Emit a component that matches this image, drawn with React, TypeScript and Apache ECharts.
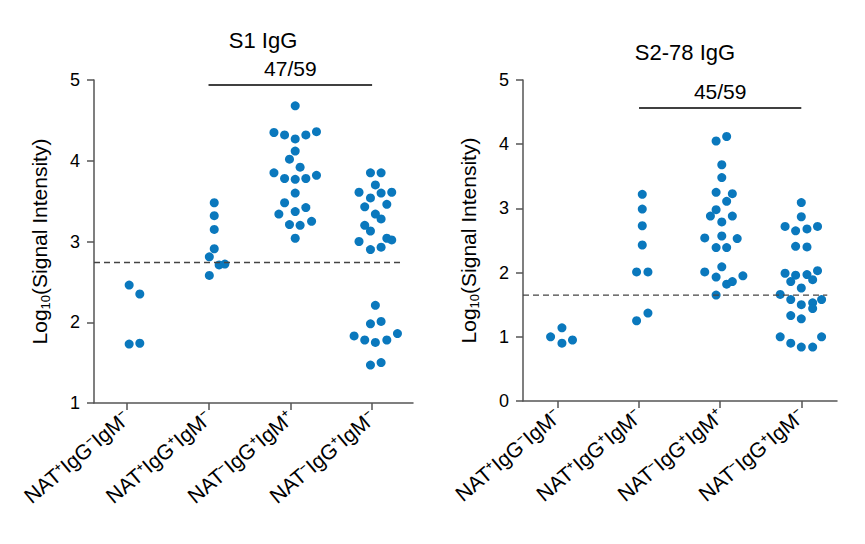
import React, { useEffect, useRef } from "react";
import * as echarts from "echarts";

const categories = ["NAT⁺IgG⁻IgM⁻", "NAT⁺IgG⁺IgM⁻", "NAT⁻IgG⁺IgM⁺", "NAT⁻IgG⁺IgM⁻"];

// S1 IgG: [category + horizontal swarm offset, log10 value]
const s1Points: [number, number][] = [
  [0.03, 2.46], [0.16, 2.35], [0.03, 1.73], [0.16, 1.74],
  [1.07, 3.48], [1.07, 3.32], [1.07, 3.15], [1.07, 2.91], [1.01, 2.81], [1.13, 2.71], [1.2, 2.72], [1.01, 2.58],
  [2.06, 4.68], [1.8, 4.35], [1.93, 4.32], [2.06, 4.27], [2.19, 4.32], [2.32, 4.36], [2.06, 4.12], [1.99, 4.02],
  [2.12, 3.92], [1.8, 3.85], [1.93, 3.78], [2.06, 3.77], [2.19, 3.78], [2.32, 3.82], [2.06, 3.6], [1.93, 3.48],
  [2.19, 3.42], [1.86, 3.34], [2.06, 3.37], [1.99, 3.21], [2.12, 3.2], [2.26, 3.25], [2.06, 3.04],
  [2.98, 3.85], [3.11, 3.85], [3.04, 3.7], [2.84, 3.61], [2.98, 3.54], [3.11, 3.6], [3.24, 3.61], [2.91, 3.43],
  [3.18, 3.46], [3.04, 3.34], [3.11, 3.28], [2.91, 3.2], [2.98, 3.13], [2.84, 3.0], [3.18, 3.04], [3.24, 3.02],
  [2.98, 2.9], [3.11, 2.93],
  [3.04, 2.21], [2.98, 1.98], [3.11, 2.01], [2.78, 1.83], [2.91, 1.78], [3.04, 1.75], [3.18, 1.78], [3.31, 1.86],
  [2.98, 1.47], [3.11, 1.5],
];

// S2-78 IgG
const s2Points: [number, number][] = [
  [-0.09, 1.0], [0.05, 1.14], [0.05, 0.9], [0.18, 0.95],
  [1.04, 3.22], [1.04, 2.99], [1.04, 2.73], [1.04, 2.43], [0.97, 2.01], [1.11, 2.01], [1.11, 1.37], [0.97, 1.25],
  [1.95, 4.05], [2.08, 4.12], [2.02, 3.68], [2.02, 3.48], [1.95, 3.25], [2.15, 3.23], [2.08, 3.11], [1.95, 2.98],
  [1.88, 2.88], [2.15, 2.88], [2.02, 2.79], [1.81, 2.54], [2.02, 2.57], [2.21, 2.53], [1.95, 2.39], [2.08, 2.39],
  [1.81, 2.01], [2.02, 2.09], [1.95, 1.93], [2.08, 1.82], [2.15, 1.86], [2.28, 1.95], [1.95, 1.65],
  [3.0, 3.09], [3.0, 2.87], [2.8, 2.72], [2.93, 2.65], [3.07, 2.68], [3.2, 2.72], [2.93, 2.41], [3.07, 2.4],
  [2.8, 1.99], [2.93, 1.96], [3.07, 1.97], [3.2, 2.03], [2.87, 1.86], [3.14, 1.89], [3.0, 1.76], [2.74, 1.66],
  [2.87, 1.58], [3.25, 1.58], [3.0, 1.5], [3.14, 1.53], [3.14, 1.44], [2.87, 1.33], [3.0, 1.28], [2.74, 1.0],
  [2.87, 0.9], [3.0, 0.84], [3.14, 0.84], [3.25, 1.0],
];

const s1Cutoff = 2.74;
const s2Cutoff = 1.65;
const s1Bracket = { from: 1, to: 3, y: 4.94, label: "47/59" };
const s2Bracket = { from: 1, to: 3, y: 4.56, label: "45/59" };

const FONT = "Liberation Sans, Arial, sans-serif";
const DOT = "#0a78bd";
const AXIS = "#555";

function panel(idx: number, pts: [number, number][], cutoff: number, cutEnd: number, br: any, xMin: number, xMax: number, yMin: number) {
  const xAxis = {
    gridIndex: idx, type: "value", min: xMin, max: xMax,
    splitLine: { show: false },
    axisLine: { onZero: false, lineStyle: { color: AXIS, width: 1.5 } },
    axisTick: { customValues: [0, 1, 2, 3], length: 7, lineStyle: { color: AXIS, width: 1.5 } },
    axisLabel: {
      customValues: [0, 1, 2, 3], rotate: 40, margin: 12,
      formatter: (v: number) => categories[Math.round(v)],
      fontSize: 21, color: "#000", fontFamily: FONT,
    },
  };
  const yAxis = {
    gridIndex: idx, type: "value", min: yMin, max: 5, interval: 1,
    name: "{a|Log}{s|10}{a|(Signal Intensity)}", nameLocation: "middle", nameGap: 42,
    nameTextStyle: { rich: { a: { fontSize: 21, fontFamily: FONT, color: "#000" }, s: { fontSize: 13, fontFamily: FONT, color: "#000", padding: [12, 0, 0, 0] } } },
    splitLine: { show: false },
    axisLine: { show: true, onZero: false, lineStyle: { color: AXIS, width: 1.5 } },
    axisTick: { show: true, length: 7, lineStyle: { color: AXIS, width: 1.5 } },
    axisLabel: { fontSize: 18, color: "#000", fontFamily: FONT, margin: 14 },
  };
  const series = [
    {
      type: "line", xAxisIndex: idx, yAxisIndex: idx, symbol: "none", silent: true,
      data: [[xMin, cutoff], [cutEnd, cutoff]],
      lineStyle: { color: "#444", type: [6, 4], width: 1.3 },
    },
    {
      type: "scatter", xAxisIndex: idx, yAxisIndex: idx, data: pts, symbolSize: 9,
      itemStyle: { color: DOT, opacity: 1 },
      markLine: {
        silent: true, symbol: "none",
        lineStyle: { color: "#000", type: "solid", width: 1.5 },
        label: { position: "middle", formatter: br.label, fontSize: 21, color: "#000", fontFamily: FONT, distance: 6 },
        data: [[{ coord: [br.from, br.y] }, { coord: [br.to, br.y] }]],
      },
    },
  ];
  return { xAxis, yAxis, series };
}

export default function App() {
  const ref = useRef<HTMLDivElement>(null);
  useEffect(() => {
    const chart = echarts.init(ref.current!, undefined, { renderer: "svg" });
    const a = panel(0, s1Points, s1Cutoff, 3.39, s1Bracket, -0.4, 3.5, 1);
    const b = panel(1, s2Points, s2Cutoff, 3.32, s2Bracket, -0.43, 3.44, 0);
    chart.setOption({
      animation: false,
      title: [
        { text: "S1 IgG", left: 250, top: 16, textAlign: "center", textStyle: { fontSize: 22, fontWeight: "normal", fontFamily: FONT, color: "#000" } },
        { text: "S2-78 IgG", left: 672, top: 28, textAlign: "center", textStyle: { fontSize: 22, fontWeight: "normal", fontFamily: FONT, color: "#000" } },
      ],
      grid: [
        { left: 86, top: 72, width: 319, height: 323 },
        { left: 515, top: 72, width: 314, height: 321 },
      ],
      xAxis: [a.xAxis, b.xAxis],
      yAxis: [a.yAxis, b.yAxis],
      series: [...a.series, ...b.series],
    });
    return () => chart.dispose();
  }, []);
  return <div ref={ref} style={{ width: 849, height: 528 }} />;
}
